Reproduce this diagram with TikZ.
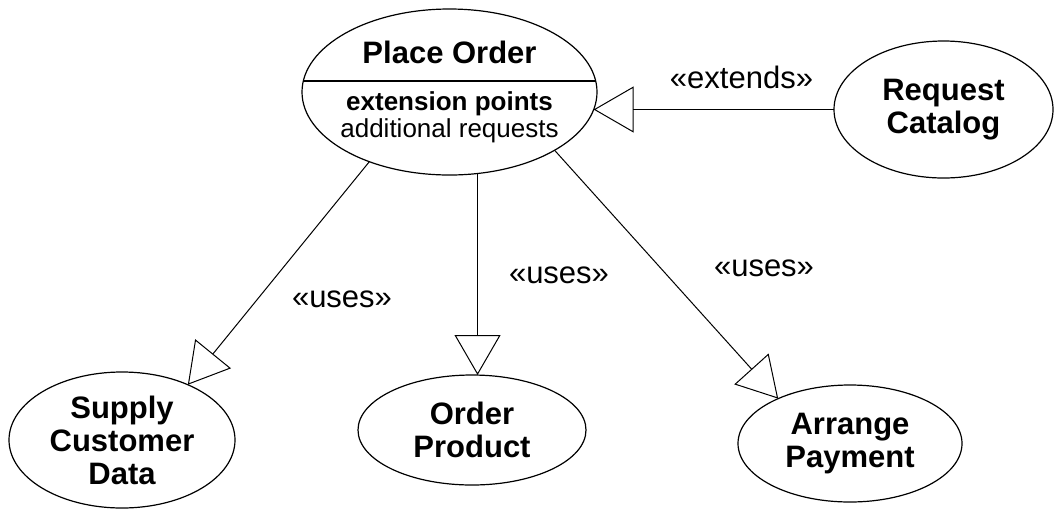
\documentclass[tikz,border=0pt]{standalone}
\usepackage{fontspec}
\setmainfont{Liberation Sans}
\usetikzlibrary{shapes.geometric,arrows.meta,positioning}

\begin{document}
\begin{tikzpicture}[
  x=0.5pt,y=-0.5pt,
  usecase/.style={ellipse,draw,line width=0.6pt,inner sep=0pt,outer sep=0pt,align=center,font=\fontsize{15.5}{16.5}\selectfont\bfseries},
  uses/.style={draw,line width=0.5pt,-{Triangle[open,length=20pt,width=23pt]}},
  stereo/.style={anchor=base,font=\fontsize{15.5}{16.5}\selectfont},
  extpt/.style={anchor=base,font=\fontsize{13}{13.5}\selectfont},
]
\useasboundingbox (0,0) rectangle (1054,510);

% use cases
\node[usecase,minimum width=147.5pt,minimum height=83pt,
  path picture={\draw[line width=0.6pt] ([yshift=5.5pt]path picture bounding box.west) -- ([yshift=5.5pt]path picture bounding box.east);}]
  (place) at (449.5,92) {};
\node[stereo,font=\fontsize{15.5}{16.5}\selectfont\bfseries] (placetitle) at (449.5,63) {Place Order};
\node[extpt,font=\fontsize{13}{13.5}\selectfont\bfseries] (extpoints) at (449.5,110) {extension points};
\node[extpt] (extrequests) at (449.5,137) {additional requests};

\node[usecase,minimum width=109.5pt,minimum height=68.5pt] (catalog) at (943.5,109.5) {Request\\Catalog};
\node[usecase,minimum width=113pt,minimum height=68pt] (customer) at (122,440) {Supply\\Customer\\Data};
\node[usecase,minimum width=114pt,minimum height=55pt] (product) at (472,430) {Order\\Product};
\node[usecase,minimum width=112pt,minimum height=58.5pt] (payment) at (850,443.5) {Arrange\\Payment};

% relations
\draw[uses] (catalog.west) -- (catalog.west -| place.353);
\draw[uses] (place.221) -- (customer.40);
\draw[uses] (place.289) -- (place.289 |- product.north);
\draw[uses] (place.331) -- (payment.148);

\node[stereo] (extendslabel) at (741.5,88) {«extends»};
\node[stereo] (useslabel1) at (342,307) {«uses»};
\node[stereo] (useslabel2) at (559,283) {«uses»};
\node[stereo] (useslabel3) at (764,276) {«uses»};

\end{tikzpicture}
\end{document}
